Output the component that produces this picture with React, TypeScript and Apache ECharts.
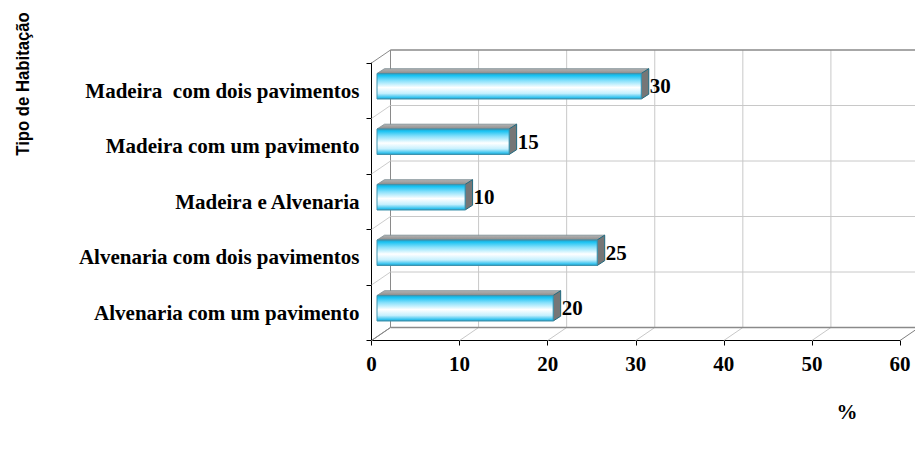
import React, { useEffect, useRef } from "react";
import * as echarts from "echarts";

// ---- data ----
const categories = [
  "Alvenaria com um pavimento",
  "Alvenaria com dois pavimentos",
  "Madeira e Alvenaria",
  "Madeira com um pavimento",
  "Madeira  com dois pavimentos",
];
const values = [20, 25, 10, 15, 30];
const xMin = 0;
const xMax = 60;
const xInterval = 10;
const xTicks = [0, 10, 20, 30, 40, 50, 60];
const yAxisTitle = "Tipo de Habitação";
const xAxisTitle = "%";

// ---- projection / style constants ----
const WALL_DX = 19;
const WALL_DY = -13;
const BAR_OX = 5.5;
const BAR_OY = -4.5;
const BAR_DX = 7.5;
const BAR_DY = -4.8;
const BAR_FRAC = 0.46;
const SERIF = '"Liberation Serif", "Times New Roman", serif';
const SANS = '"Liberation Sans", Arial, sans-serif';

export default function App() {
  const ref = useRef<HTMLDivElement>(null);

  useEffect(() => {
    if (!ref.current) return;
    const chart = echarts.init(ref.current, undefined, { renderer: "svg" });

    const valueWall = (params: any, api: any) => {
      const cs = params.coordSys;
      const v = api.value(0);
      const x = api.coord([v, 0])[0];
      const bottom = cs.y + cs.height;
      const top = cs.y;
      const edge = v === xMin || v === xMax;
      return {
        type: "group",
        children: [
          {
            type: "line",
            shape: { x1: x, y1: bottom, x2: x + WALL_DX, y2: bottom + WALL_DY },
            style: { stroke: edge ? "#7f7f7f" : "#c8c8c8", lineWidth: 1 },
          },
          {
            type: "line",
            shape: { x1: x + WALL_DX, y1: top + WALL_DY, x2: x + WALL_DX, y2: bottom + WALL_DY },
            style: { stroke: v === xMin ? "#8a8a8a" : "#c8c8c8", lineWidth: 1 },
          },
        ],
      };
    };

    const catWall = (params: any, api: any) => {
      const cs = params.coordSys;
      const i = api.value(0);
      const band = cs.height / categories.length;
      const y = cs.y + i * band;
      const edge = i === 0 || i === categories.length;
      return {
        type: "group",
        children: [
          {
            type: "line",
            shape: { x1: cs.x, y1: y, x2: cs.x + WALL_DX, y2: y + WALL_DY },
            style: { stroke: edge ? "#8a8a8a" : "#cccccc", lineWidth: 1 },
          },
          {
            type: "line",
            shape: {
              x1: cs.x + WALL_DX,
              y1: y + WALL_DY,
              x2: cs.x + cs.width + WALL_DX,
              y2: y + WALL_DY,
            },
            style: { stroke: edge ? "#8a8a8a" : "#c8c8c8", lineWidth: edge ? 1.5 : 1 },
          },
        ],
      };
    };

    const bar3d = (params: any, api: any) => {
      const cat = api.value(0);
      const v = api.value(1);
      const p0 = api.coord([0, cat]);
      const p1 = api.coord([v, cat]);
      const band = api.size([0, 1])[1];
      const h = band * BAR_FRAC;
      const xL = p0[0] + BAR_OX;
      const xR = p1[0] + BAR_OX;
      const yT = p0[1] - h / 2 + BAR_OY;
      const yB = yT + h;
      return {
        type: "group",
        children: [
          {
            type: "polygon",
            shape: {
              points: [
                [xL, yT],
                [xR, yT],
                [xR + BAR_DX, yT + BAR_DY],
                [xL + BAR_DX, yT + BAR_DY],
              ],
            },
            style: {
              fill: {
                type: "linear", x: 0, y: 0, x2: 0, y2: 1,
                colorStops: [
                  { offset: 0, color: "#b4b4b4" },
                  { offset: 1, color: "#8c8c8c" },
                ],
              },
              stroke: "#7a8a90",
              lineWidth: 0.8,
            },
          },
          {
            type: "polygon",
            shape: {
              points: [
                [xR, yT],
                [xR + BAR_DX, yT + BAR_DY],
                [xR + BAR_DX, yB + BAR_DY],
                [xR, yB],
              ],
            },
            style: { fill: "#767676", stroke: "#1f6a80", lineWidth: 1 },
          },
          {
            type: "rect",
            shape: { x: xL, y: yT, width: xR - xL, height: h },
            style: {
              fill: {
                type: "linear", x: 0, y: 0, x2: 0, y2: 1,
                colorStops: [
                  { offset: 0, color: "#2f9cbc" },
                  { offset: 0.08, color: "#19c2f2" },
                  { offset: 0.28, color: "#86e0fb" },
                  { offset: 0.55, color: "#ffffff" },
                  { offset: 0.78, color: "#c6f0fe" },
                  { offset: 0.94, color: "#34c2ee" },
                  { offset: 1, color: "#2a8fb0" },
                ],
              },
              stroke: "#3f93ae",
              lineWidth: 1,
            },
          },
          {
            type: "text",
            x: xR + BAR_DX + 1,
            y: (yT + yB) / 2,
            style: {
              text: String(v),
              fontFamily: SERIF,
              fontWeight: "bold",
              fontSize: 21,
              fill: "#000",
              align: "left",
              verticalAlign: "middle",
            },
          },
        ],
      };
    };

    chart.setOption({
      animation: false,
      backgroundColor: "#ffffff",
      grid: { left: 371.5, right: 15, top: 63, bottom: 109.5 },
      xAxis: {
        type: "value",
        min: xMin,
        max: xMax,
        interval: xInterval,
        axisLine: { show: true, lineStyle: { color: "#000", width: 1 } },
        axisTick: { show: true, length: 5, lineStyle: { color: "#000" } },
        splitLine: { show: false },
        axisLabel: {
          fontFamily: SERIF,
          fontWeight: "bold",
          fontSize: 21,
          color: "#000",
          margin: 13,
        },
      },
      yAxis: {
        type: "category",
        data: categories,
        axisLine: { show: true, lineStyle: { color: "#000", width: 1 } },
        axisTick: { show: true, length: 5, lineStyle: { color: "#000" } },
        splitLine: { show: false },
        axisLabel: {
          fontFamily: SERIF,
          fontWeight: "bold",
          fontSize: 21,
          color: "#000",
          margin: 12,
        },
      },
      graphic: [
        {
          type: "text",
          x: 23,
          y: 84,
          rotation: Math.PI / 2,
          scaleX: 0.88,
          style: {
            text: yAxisTitle,
            fontFamily: SANS,
            fontWeight: "bold",
            fontSize: 19,
            fill: "#000",
            align: "center",
            verticalAlign: "middle",
          },
        },
        {
          type: "text",
          x: 847,
          y: 412,
          style: {
            text: xAxisTitle,
            fontFamily: SERIF,
            fontWeight: "bold",
            fontSize: 21,
            fill: "#000",
            align: "center",
            verticalAlign: "middle",
          },
        },
      ],
      series: [
        {
          type: "custom",
          name: "valueWall",
          renderItem: valueWall,
          data: xTicks.map((v) => [v]),
          encode: { x: 0 },
          clip: false,
          silent: true,
          z: 1,
        },
        {
          type: "custom",
          name: "catWall",
          renderItem: catWall,
          data: categories.map((_, i) => [i]).concat([[categories.length]]),
          encode: { x: 0 },
          clip: false,
          silent: true,
          z: 1,
        },
        {
          type: "custom",
          name: "bars",
          renderItem: bar3d,
          data: values.map((v, i) => [i, v]),
          encode: { y: 0, x: 1 },
          clip: false,
          z: 3,
        },
      ],
    });

    return () => chart.dispose();
  }, []);

  return (
    <div
      ref={ref}
      style={{ position: "fixed", left: 0, top: 0, width: 915, height: 450, background: "#fff" }}
    />
  );
}
